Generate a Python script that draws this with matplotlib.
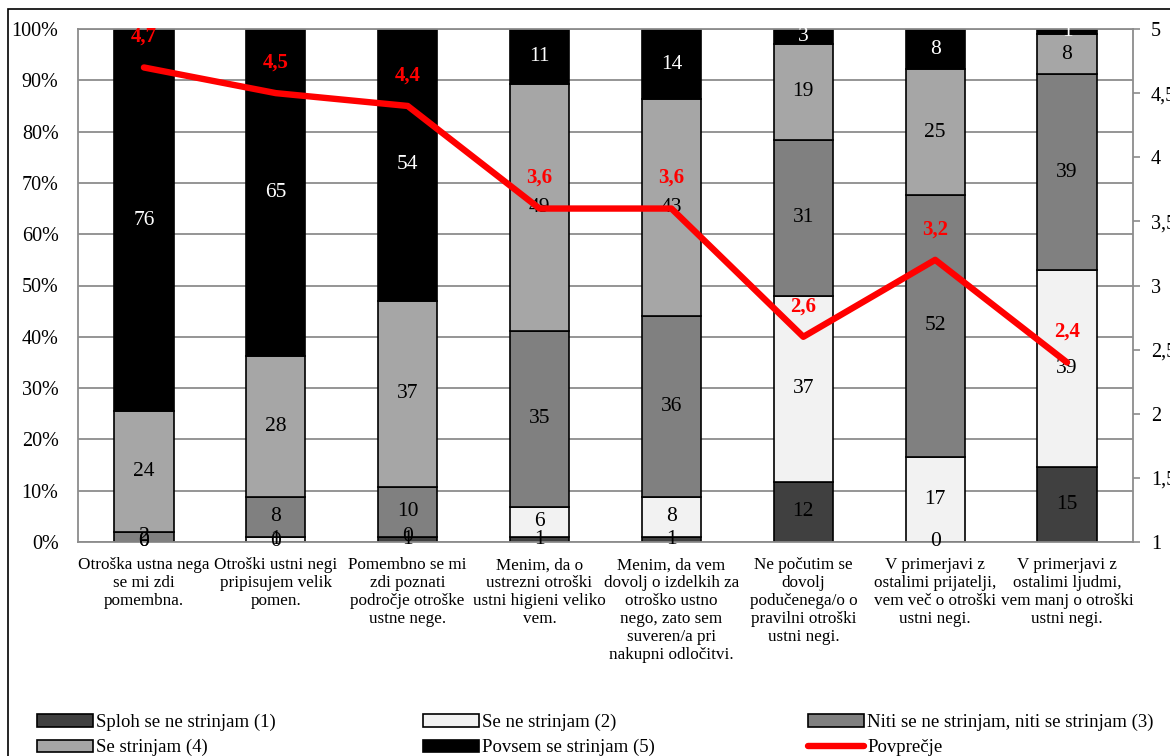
import matplotlib
matplotlib.use("Agg")
import matplotlib.pyplot as plt
from matplotlib.patches import Rectangle, Patch
from matplotlib.lines import Line2D
from matplotlib.ticker import PercentFormatter
import numpy as np

# ---- data -------------------------------------------------------------
categories = [
    "Otroška ustna nega\nse mi zdi\npomembna.",
    "Otroški ustni negi\npripisujem velik\npomen.",
    "Pomembno se mi\nzdi poznati\npodročje otroške\nustne nege.",
    "Menim, da o\nustrezni otroški\nustni higieni veliko\nvem.",
    "Menim, da vem\ndovolj o izdelkih za\notroško ustno\nnego, zato sem\nsuveren/a pri\nnakupni odločitvi.",
    "Ne počutim se\ndovolj\npodučenega/o o\npravilni otroški\nustni negi.",
    "V primerjavi z\nostalimi prijatelji,\nvem več o otroški\nustni negi.",
    "V primerjavi z\nostalimi ljudmi,\nvem manj o otroški\nustni negi.",
]
series_names = [
    "Sploh se ne strinjam (1)",
    "Se ne strinjam (2)",
    "Niti se ne strinjam, niti se strinjam (3)",
    "Se strinjam (4)",
    "Povsem se strinjam (5)",
]
sploh = [0, 0, 1, 1, 1, 12, 0, 15]
se_ne = [0, 1, 0, 6, 8, 37, 17, 39]
niti = [2, 8, 10, 35, 36, 31, 52, 39]
se = [24, 28, 37, 49, 43, 19, 25, 8]
povsem = [76, 65, 54, 11, 14, 3, 8, 1]
povprecje = [4.7, 4.5, 4.4, 3.6, 3.6, 2.6, 3.2, 2.4]
mean_name = "Povprečje"
left_ticks = [0, 0.1, 0.2, 0.3, 0.4, 0.5, 0.6, 0.7, 0.8, 0.9, 1.0]
right_ticks = [1, 1.5, 2, 2.5, 3, 3.5, 4, 4.5, 5]

# ---- style ------------------------------------------------------------
plt.rcParams["font.family"] = ["Liberation Serif", "DejaVu Serif"]
fills = ["#404040", "#F2F2F2", "#808080", "#A6A6A6", "#000000"]
label_colors = ["black", "black", "black", "black", "white"]
grid_color = "#8C8C8C"

W, H = 1170, 756
fig = plt.figure(figsize=(W / 100, H / 100), dpi=100)
ax = fig.add_axes([78 / W, 1 - 542 / H, (1133 - 78) / W, (542 - 29) / H])

x = np.arange(len(categories))
counts = np.array([sploh, se_ne, niti, se, povsem], dtype=float)
shares = counts / counts.sum(axis=0)

bottom = np.zeros(len(categories))
for i, name in enumerate(series_names):
    ax.bar(x, shares[i], 0.45, bottom=bottom, color=fills[i],
           edgecolor="black", linewidth=1.2, label=name, zorder=2)
    for xi, b, h, v in zip(x, bottom, shares[i], counts[i]):
        ax.text(xi, b + h / 2, f"{int(v)}", ha="center", va="center",
                fontsize=15.5, color=label_colors[i], zorder=3)
    bottom += shares[i]

ax.set_xlim(-0.5, len(categories) - 0.5)
ax.set_ylim(0, 1)
ax.set_yticks(left_ticks)
ax.yaxis.set_major_formatter(PercentFormatter(1.0, decimals=0))
ax.yaxis.grid(True, color=grid_color, linewidth=1.3, zorder=0)
ax.set_axisbelow(True)
ax.set_xticks(x)
ax.set_xticklabels(categories, fontsize=12.3, linespacing=1.16, va="top")
ax.tick_params(axis="x", length=0, pad=11)
ax.tick_params(axis="y", length=0, pad=14, labelsize=14.5)
for s in ax.spines.values():
    s.set_color(grid_color)
    s.set_linewidth(1.3)

# average on the secondary axis
ax2 = ax.twinx()
ax2.set_ylim(1, 5)
ax2.set_yticks(right_ticks)
ax2.set_yticklabels([f"{t:g}".replace(".", ",") for t in right_ticks])
ax2.tick_params(axis="y", direction="out", length=5, width=1.2,
                color=grid_color, pad=8, labelsize=14.5)
for s in ax2.spines.values():
    s.set_visible(False)
ax2.plot(x, povprecje, color="#FF0000", linewidth=4.6, solid_capstyle="round",
         solid_joinstyle="round", zorder=5)
for xi, m in zip(x, povprecje):
    ax2.annotate(f"{m:.1f}".replace(".", ","), (xi, m), xytext=(0, 22),
                 textcoords="offset points", ha="center", va="center",
                 fontsize=15, fontweight="bold", color="#FF0000",
                 annotation_clip=False, zorder=6)

# legend in three columns below the plot
handles = [Patch(facecolor=c, edgecolor="black", linewidth=1.2) for c in fills]
line_handle = Line2D([], [], color="#FF0000", linewidth=4.6, solid_capstyle="round")
columns = [
    ([handles[0], handles[3]], [series_names[0], series_names[3]], 37),
    ([handles[1], handles[4]], [series_names[1], series_names[4]], 423),
    ([handles[2], line_handle], [series_names[2], mean_name], 808),
]
for hs, ls, x0 in columns:
    fig.legend(hs, ls, loc="upper left", bbox_to_anchor=(x0 / W, 1 - 714 / H),
               frameon=False, fontsize=13.5, handlelength=3.0,
               handleheight=0.65, handletextpad=0.15, borderpad=0,
               borderaxespad=0, labelspacing=0.42)

# chart frame
fig.patches.append(Rectangle((8 / W, -0.1), 2, 1.1 - 9 / H,
                             transform=fig.transFigure, fill=False,
                             edgecolor="black", linewidth=1.2))

fig.savefig("out.png", dpi=100)
